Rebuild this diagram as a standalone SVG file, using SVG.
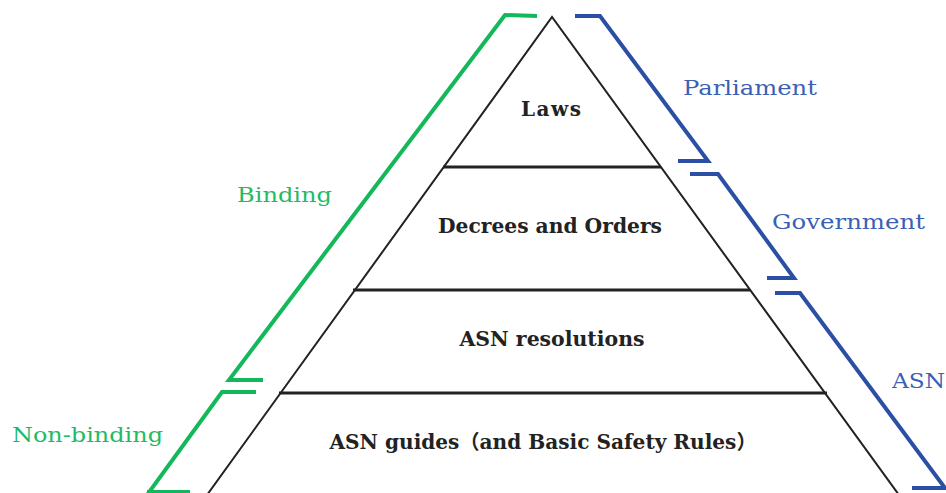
<svg xmlns="http://www.w3.org/2000/svg" width="946" height="493" viewBox="0 0 946 493">
<style>
.tier{fill:none;stroke:#222;stroke-width:2}
.div{stroke:#222;stroke-width:3}
.g{fill:none;stroke:#12b85a;stroke-width:4;stroke-linejoin:miter}
.b{fill:none;stroke:#2c4fa6;stroke-width:4;stroke-linejoin:miter}
.t{font-family:"DejaVu Serif","Noto Sans CJK JP",serif;font-weight:bold;font-size:20px;fill:#222;text-anchor:middle}
.lg{font-family:"DejaVu Serif",serif;font-size:20px;fill:#1ebb66}
.lb{font-family:"DejaVu Serif",serif;font-size:20px;fill:#3a5fb5}
</style>
<rect width="946" height="493" fill="#fff"/>
<g id="pyramid">
<polyline class="tier" points="207,495 552,17 899,495"/>
</g>
<g id="connectors">
<line class="div" x1="443" y1="167" x2="661" y2="167"/>
<line class="div" x1="353" y1="290" x2="750" y2="290"/>
<line class="div" x1="279" y1="393" x2="827" y2="393"/>
<polyline class="g" points="537,16 505,15 229,380 263,380"/>
<polyline class="g" points="256,392 222,392 147,495"/>
<line class="g" x1="147" y1="492" x2="190" y2="492"/>
<polyline class="b" points="575,16 600,16 708,161 678,161"/>
<polyline class="b" points="690,174 718,174 794,278 767,278"/>
<polyline class="b" points="775,293 800,293 945,488 912,488"/>
</g>
<g id="laws"><text class="t" x="551" y="116" textLength="60">Laws</text></g>
<g id="decrees"><text class="t" x="550" y="233" textLength="224" lengthAdjust="spacingAndGlyphs">Decrees and Orders</text></g>
<g id="resolutions"><text class="t" x="552" y="346" textLength="185" lengthAdjust="spacingAndGlyphs">ASN resolutions</text></g>
<g id="guides"><text class="t" x="543" y="449" textLength="427" lengthAdjust="spacingAndGlyphs">ASN guides（and Basic Safety Rules）</text></g>
<g id="parliament"><text class="lb" x="683" y="95" textLength="134" lengthAdjust="spacingAndGlyphs">Parliament</text></g>
<g id="government"><text class="lb" x="772" y="229" textLength="153" lengthAdjust="spacingAndGlyphs">Government</text></g>
<g id="asn"><text class="lb" x="892" y="388" textLength="53" lengthAdjust="spacingAndGlyphs">ASN</text></g>
<g id="binding"><text class="lg" x="237" y="202" textLength="95" lengthAdjust="spacingAndGlyphs">Binding</text></g>
<g id="nonbinding"><text class="lg" x="12" y="442" textLength="151" lengthAdjust="spacingAndGlyphs">Non-binding</text></g>
</svg>
